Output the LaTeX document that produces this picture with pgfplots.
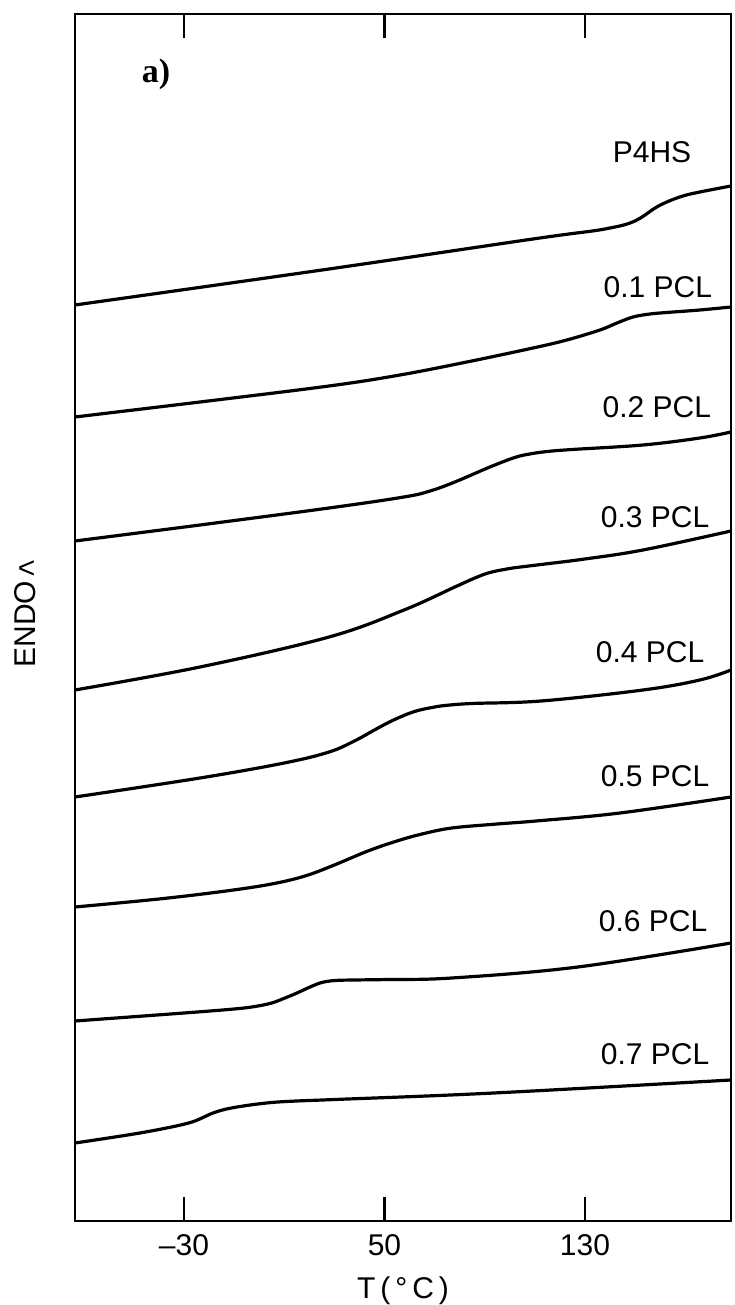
\documentclass[border=0pt]{standalone}
\usepackage{pgfplots}
\pgfplotsset{compat=1.18}
\usepackage{fontspec}
\setmainfont{Liberation Sans}
\newfontfamily\serifbold{Liberation Serif}
\pgfplotsset{every axis/.append style={line width=2.6pt}, tick style={line width=2.4pt, black}}
\begin{document}
\fontsize{30}{36}\selectfont
\begin{tikzpicture}
\begin{axis}[
  at={(75pt,84pt)}, anchor=south west,
  scale only axis, width=656pt, height=1207pt,
  xmin=-73.5, xmax=188.3, ymin=0, ymax=1207,
  xtick={-30,50,130}, xticklabels={–30,50,130},
  ytick=\empty,
  tick align=inside, major tick length=24pt,
  every tick label/.append style={font=\fontsize{30}{36}\selectfont},
  xticklabel style={yshift=-2pt},
  xlabel={T\,(\,°\,C\,)},
  xlabel style={font=\fontsize{30}{36}\selectfont},
  clip=false,
  curve/.style={black, solid, line width=3.2pt, smooth, tension=0.6, mark=none},
]
% P4HS
\addplot[curve] coordinates {(-73.5,916) (27.9,952) (109.3,982) (133,990) (140,993) (145.5,996) (150,1000) (154,1006) (158,1013) (162.7,1019) (169.1,1025) (175.9,1029) (188.3,1035)};
% 0.1 PCL
\addplot[curve] coordinates {(-73.5,804) (-23.6,819) (27.9,835) (56.2,846) (82.9,859) (109.3,873) (122.8,881) (136,891) (142.8,898) (149.2,904) (156,907) (162.7,908.5) (175.9,911) (188.3,914)};
% 0.2 PCL
\addplot[curve] coordinates {(-73.5,680) (-23.6,696) (27.9,713) (57.8,724) (68.2,730) (78.1,739) (92.1,754) (102,763.5) (108,767) (115,769.5) (125,771.5) (153.2,776) (175.9,783) (188.3,789)};
% 0.3 PCL
\addplot[curve] coordinates {(-73.5,531) (-23.6,554) (27.9,584) (57.8,611) (78.1,634) (86.1,643) (92.1,648.5) (100,652.5) (106,654.5) (112.5,656.5) (130,662) (153.2,671) (188.3,690)};
% 0.4 PCL
\addplot[curve] coordinates {(-73.5,424) (-23.6,443) (10,458) (27.9,469) (38,480) (46,491) (52,499) (58.2,506) (63.4,510.5) (69,513.5) (74.2,515.5) (85,517.5) (112.5,520) (153.2,531) (175.9,541) (188.3,551)};
% 0.5 PCL
\addplot[curve] coordinates {(-73.5,314) (-40,322) (-13.2,330) (5,337) (18.3,345) (30,356) (43.4,370) (55,380) (65,387) (76.9,393) (95,397) (110.5,400) (144,408) (188.3,424)};
% 0.6 PCL
\addplot[curve] coordinates {(-73.5,200) (-30,208) (-10,212) (-1.7,214.5) (5,218) (10.3,223) (15.1,228) (20.3,234) (25,238.5) (30.3,240.5) (38,241) (51.8,241.5) (76.9,243) (127.2,254) (188.3,278)};
% 0.7 PCL
\addplot[curve] coordinates {(-73.5,78) (-50,87) (-35,94) (-26.8,99) (-22,104) (-18.4,108) (-13,112) (-5,115.5) (5,118.5) (15,120) (30.3,121.5) (93.7,128) (188.3,141)};

\draw[line width=2.6pt, line cap=rect] (rel axis cs:0,0) rectangle (rel axis cs:1,1);
\node[font=\fontsize{30}{36}\selectfont] at (axis cs:156.8,1069) {P4HS};
\node[font=\fontsize{30}{36}\selectfont] at (axis cs:159.1,934) {0.1 PCL};
\node[font=\fontsize{30}{36}\selectfont] at (axis cs:158.7,814) {0.2 PCL};
\node[font=\fontsize{30}{36}\selectfont] at (axis cs:158.0,704) {0.3 PCL};
\node[font=\fontsize{30}{36}\selectfont] at (axis cs:156.0,569) {0.4 PCL};
\node[font=\fontsize{30}{36}\selectfont] at (axis cs:158.0,445) {0.5 PCL};
\node[font=\fontsize{30}{36}\selectfont] at (axis cs:157.2,300) {0.6 PCL};
\node[font=\fontsize{30}{36}\selectfont] at (axis cs:158.0,167) {0.7 PCL};
\node[font=\serifbold\bfseries\fontsize{34}{40}\selectfont] at (axis cs:-41.2,1147) {a)};
\node[font=\fontsize{30}{36}\selectfont, rotate=90] at ([xshift=-50pt]axis cs:-73.5,608) {ENDO\,\rotatebox{90}{>}};
\end{axis}
\pgfresetboundingbox
\useasboundingbox (0,0) rectangle (734pt,1305pt);
\end{tikzpicture}
\end{document}
